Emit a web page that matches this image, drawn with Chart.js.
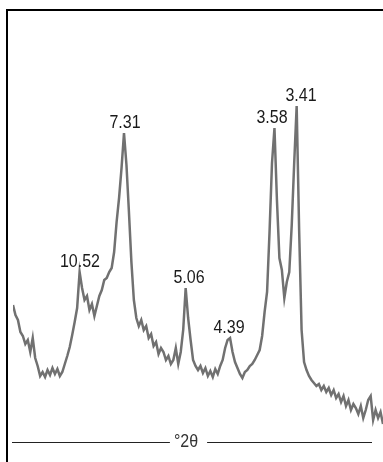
<!DOCTYPE html>
<html>
<head>
<meta charset="utf-8">
<script src="https://cdn.jsdelivr.net/npm/chart.js@4/dist/chart.umd.min.js"></script>
<style>
  html, body { margin: 0; padding: 0; background: #fff; }
  #wrap { position: relative; width: 383px; height: 462px; overflow: hidden; }
  #frame { position: absolute; left: 6px; top: 9px; right: -4px; bottom: -4px;
           border-left: 2px solid #000; border-top: 2px solid #000; pointer-events: none; }
  canvas { position: absolute; left: 0; top: 0; }
</style>
</head>
<body>
<div id="wrap">
  <canvas id="xrd" width="383" height="462"></canvas>
  <div id="frame"></div>
</div>
<script>
// 2θ (graus) de cada passo do difratograma
const twoTheta = [
  3.0, 3.2, 3.4, 3.6, 3.8, 4.0, 4.2, 4.4, 4.6, 4.8,
  5.0, 5.2, 5.4, 5.6, 5.8, 6.0, 6.2, 6.4, 6.6, 6.8,
  7.0, 7.2, 7.4, 7.6, 7.8, 8.0, 8.2, 8.4, 8.6, 8.8,
  9.0, 9.2, 9.4, 9.6, 9.8, 10.0, 10.2, 10.4, 10.6, 10.8,
  11.0, 11.2, 11.4, 11.6, 11.8, 12.0, 12.2, 12.4, 12.6, 12.8,
  13.0, 13.2, 13.4, 13.6, 13.8, 14.0, 14.2, 14.4, 14.6, 14.8,
  15.0, 15.2, 15.4, 15.6, 15.8, 16.0, 16.2, 16.4, 16.6, 16.8,
  17.0, 17.2, 17.4, 17.6, 17.8, 18.0, 18.2, 18.4, 18.6, 18.8,
  19.0, 19.2, 19.4, 19.6, 19.8, 20.0, 20.2, 20.4, 20.6, 20.8,
  21.0, 21.2, 21.4, 21.6, 21.8, 22.0, 22.2, 22.4, 22.6, 22.8,
  23.0, 23.2, 23.4, 23.6, 23.8, 24.0, 24.2, 24.4, 24.6, 24.8,
  25.0, 25.2, 25.4, 25.6, 25.8, 26.0, 26.2, 26.4, 26.6, 26.8,
  27.0, 27.2, 27.4, 27.6, 27.8, 28.0, 28.2, 28.4, 28.6, 28.8,
  29.0, 29.2, 29.4, 29.6, 29.8, 30.0, 30.2, 30.4, 30.6, 30.8,
  31.0, 31.2, 31.4, 31.6, 31.8, 32.0, 32.2, 32.4, 32.6, 32.8,
  33.0
];

// intensidade (contagens)
const counts = [
  625, 575, 550, 490, 470, 430, 450, 390, 460, 360,
  320, 270, 290, 265, 300, 275, 310, 280, 305, 270,
  290, 330, 370, 415, 475, 540, 610, 790, 710, 650,
  670, 600, 630, 570, 620, 670, 700, 750, 760, 790,
  810, 890, 1040, 1160, 1310, 1485, 1325, 1090, 840, 650,
  560, 520, 550, 500, 520, 460, 480, 420, 440, 380,
  410, 390, 350, 370, 330, 350, 410, 330, 390, 500,
  710, 560, 450, 350, 320, 300, 320, 285, 310, 270,
  295, 265, 305, 280, 320, 350, 410, 450, 460, 390,
  340, 310, 280, 260, 290, 300, 320, 330, 350, 375,
  400, 470, 590, 690, 990, 1335, 1510, 1150, 860, 800,
  660, 740, 790, 1025, 1335, 1620, 1000, 500, 340, 300,
  270, 250, 235, 220, 230, 200, 220, 190, 210, 175,
  200, 160, 180, 140, 170, 120, 150, 100, 130, 110,
  80, 120, 60, 100, 150, 170, 50, 100, 60, 90,
  30
];

// picos identificados (d em Å) e posição aproximada do rótulo em 2θ
const peakLabels = ['10.52', '7.31', '5.06', '4.39', '3.58', '3.41'];
const peakAngles = [8.43, 12.08, 17.27, 20.51, 24.0, 26.35];

const axisTitle = '°2θ';

// texto um pouco esticado na vertical, como no original
function tallText(ctx, txt, x, y) {
    ctx.save();
    ctx.translate(x, y);
    ctx.scale(1, 1.13);
    ctx.fillText(txt, 0, 0);
    ctx.restore();
}

// rótulos dos picos + eixo desenhado à mão
const xrdDecor = {
    id: 'xrdDecor',
    afterDatasetsDraw(chart) {
        const { ctx, chartArea, scales } = chart;
        const x = scales.x, y = scales.y;

        ctx.save();
        ctx.fillStyle = '#1a1a1a';
        ctx.font = '16px "Liberation Sans", Arial, sans-serif';
        ctx.textAlign = 'center';
        ctx.textBaseline = 'alphabetic';
        peakLabels.forEach((txt, k) => {
            const a = peakAngles[k];
            let top = 0;
            twoTheta.forEach((t, i) => {
                if (Math.abs(t - a) <= 0.5 && counts[i] > top) top = counts[i];
            });
            tallText(ctx, txt, x.getPixelForValue(a), y.getPixelForValue(top) - 5);
        });

        // linha do eixo com o título no meio
        const ly = chartArea.bottom + 12.5;
        const cx = 186;
        const w = ctx.measureText(axisTitle).width;
        ctx.strokeStyle = '#222';
        ctx.lineWidth = 1;
        ctx.beginPath();
        ctx.moveTo(chartArea.left - 1, ly);
        ctx.lineTo(cx - w / 2 - 4, ly);
        ctx.moveTo(cx + w / 2 + 9, ly);
        ctx.lineTo(chartArea.right - 11, ly);
        ctx.stroke();
        ctx.textBaseline = 'middle';
        ctx.fillStyle = '#333';
        tallText(ctx, axisTitle, cx, ly);
        ctx.restore();
    }
};

new Chart(document.getElementById('xrd').getContext('2d'), {
    type: 'line',
    data: {
        datasets: [{
            label: 'DRX',
            data: twoTheta.map((t, i) => ({ x: t, y: counts[i] })),
            borderColor: '#717171',
            borderWidth: 2.5,
            pointRadius: 0,
            tension: 0,
            fill: false
        }]
    },
    options: {
        responsive: false,
        animation: false,
        layout: { padding: { left: 13, right: 0, top: 10, bottom: 32 } },
        plugins: { legend: { display: false }, tooltip: { enabled: false } },
        scales: {
            x: { type: 'linear', min: 3, max: 33, display: false },
            y: { min: 0, max: 2100, display: false }
        }
    },
    plugins: [xrdDecor]
});
</script>
</body>
</html>
